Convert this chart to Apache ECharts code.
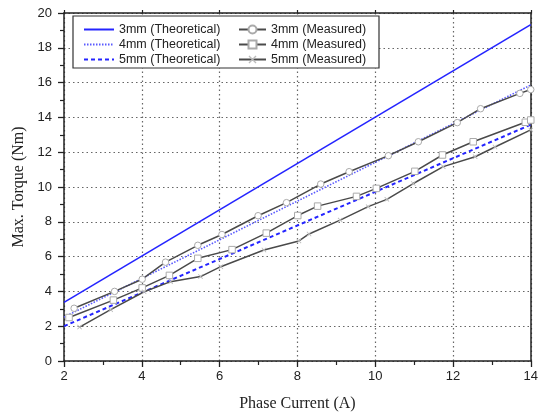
<!DOCTYPE html>
<html>
<head>
<meta charset="utf-8">
<script src="https://cdn.jsdelivr.net/npm/echarts@6/dist/echarts.min.js"></script>
<style>
html,body{margin:0;padding:0;background:#fff;}
#chart{width:541px;height:419px;}
</style>
</head>
<body>
<div id="chart"></div>
<script>
// ---- data ----
var seriesNames = ['3mm (Theoretical)', '4mm (Theoretical)', '5mm (Theoretical)',
                   '3mm (Measured)', '4mm (Measured)', '5mm (Measured)'];
var xTicks = [2, 4, 6, 8, 10, 12, 14];
var yTicks = [0, 2, 4, 6, 8, 10, 12, 14, 16, 18, 20];

var theoX = [2, 14];
var theo3 = [3.37, 19.33];
var theo4 = [2.52, 15.86];
var theo5 = [2.0, 13.58];

var meas3X = [2.26, 3.3, 4.01, 4.61, 5.44, 6.06, 6.99, 7.72, 8.6, 9.33, 10.34, 11.11, 12.11, 12.71, 13.72, 14.0];
var meas3Y = [3.03, 4.0, 4.7, 5.68, 6.65, 7.27, 8.35, 9.1, 10.17, 10.88, 11.8, 12.6, 13.7, 14.5, 15.38, 15.6];

var meas4X = [2.13, 3.27, 4.01, 4.71, 5.44, 6.32, 7.2, 8.01, 8.52, 9.52, 10.03, 11.02, 11.73, 12.52, 13.86, 14.0];
var meas4Y = [2.5, 3.5, 4.2, 4.92, 5.9, 6.4, 7.35, 8.36, 8.9, 9.46, 9.92, 10.9, 11.84, 12.6, 13.72, 13.85];

var meas5X = [2.4, 3.2, 4.06, 4.74, 5.51, 6.03, 7.14, 8.04, 8.3, 9.1, 9.82, 10.3, 10.98, 11.75, 12.57, 13.08, 14.0];
var meas5Y = [1.95, 2.95, 3.98, 4.56, 4.85, 5.42, 6.38, 6.9, 7.3, 8.1, 8.87, 9.29, 10.2, 11.17, 11.74, 12.3, 13.28];

function pairs(xs, ys) { return xs.map(function (x, i) { return [x, ys[i]]; }); }

var chart = echarts.init(document.getElementById('chart'), null, { renderer: 'canvas' });

var sans = 'Liberation Sans, Arial, sans-serif';
var serif = 'Liberation Serif, Times New Roman, serif';
var blue = '#2424ff';
var gray = '#4a4a4a';
var crossPath = 'path://M0,1.2 L1.2,0 L5,3.8 L8.8,0 L10,1.2 L6.2,5 L10,8.8 L8.8,10 L5,6.2 L1.2,10 L0,8.8 L3.8,5 Z';

var option = {
  backgroundColor: '#fff',
  animation: false,
  grid: { left: 64, right: 10, top: 13, bottom: 58, containLabel: false },
  xAxis: [{
    type: 'value', min: xTicks[0], max: xTicks[xTicks.length - 1], interval: 2,
    position: 'bottom',
    name: 'Phase Current (A)', nameLocation: 'middle', nameGap: 35,
    nameTextStyle: { fontFamily: serif, fontSize: 16, color: '#222' },
    axisLine: { show: true, onZero: false, lineStyle: { color: '#222', width: 1.5 } },
    axisTick: { show: true, inside: false, length: 6, lineStyle: { color: '#222', width: 1.3 } },
    minorTick: { show: true, splitNumber: 2, length: 4, lineStyle: { color: '#222', width: 1.2 } },
    axisLabel: { fontFamily: sans, fontSize: 13, color: '#222', margin: 9 },
    splitLine: { show: true, lineStyle: { color: '#666', type: [1.5, 3], width: 1.2 } }
  }, {
    type: 'value', min: xTicks[0], max: xTicks[xTicks.length - 1], interval: 2,
    position: 'top',
    axisLine: { show: true, onZero: false, lineStyle: { color: '#222', width: 1.5 } },
    axisTick: { show: true, inside: false, length: 3, lineStyle: { color: '#222', width: 1.2 } },
    axisLabel: { show: false },
    splitLine: { show: false }
  }],
  yAxis: [{
    type: 'value', min: yTicks[0], max: yTicks[yTicks.length - 1], interval: 2,
    position: 'left',
    name: 'Max. Torque (Nm)', nameLocation: 'middle', nameGap: 34,
    nameTextStyle: { fontFamily: serif, fontSize: 16, color: '#222' },
    axisLine: { show: true, onZero: false, lineStyle: { color: '#222', width: 1.5 } },
    axisTick: { show: true, inside: false, length: 6, lineStyle: { color: '#222', width: 1.3 } },
    minorTick: { show: true, splitNumber: 2, length: 4, lineStyle: { color: '#222', width: 1.2 } },
    axisLabel: { fontFamily: sans, fontSize: 13, color: '#222', margin: 12 },
    splitLine: { show: true, lineStyle: { color: '#666', type: [1.5, 3], width: 1.2 } }
  }, {
    type: 'value', min: yTicks[0], max: yTicks[yTicks.length - 1], interval: 2,
    position: 'right',
    axisLine: { show: true, onZero: false, lineStyle: { color: '#222', width: 1.5 } },
    axisTick: { show: false },
    axisLabel: { show: false },
    splitLine: { show: false }
  }],
  graphic: [{
    type: 'rect', z: 3,
    shape: { x: 73, y: 16, width: 306, height: 52 },
    style: { fill: '#fff', stroke: '#333', lineWidth: 1.2 }
  }],
  legend: [{
    data: seriesNames.slice(0, 3),
    orient: 'vertical', left: 83, top: 23, z: 5, padding: 0,
    itemWidth: 30, itemHeight: 10, itemGap: 2,
    itemStyle: { opacity: 0 },
    textStyle: { fontFamily: sans, fontSize: 12.5, color: '#222' }
  }, {
    data: seriesNames.slice(3),
    orient: 'vertical', left: 238, top: 23, z: 5, padding: 0,
    itemWidth: 27, itemHeight: 10, itemGap: 2,
    textStyle: { fontFamily: sans, fontSize: 12.5, color: '#222' }
  }],
  series: [{
    name: seriesNames[0], type: 'line', symbol: 'none', z: 2,
    data: pairs(theoX, theo3),
    lineStyle: { color: blue, width: 1.6, type: 'solid' }, itemStyle: { color: blue }
  }, {
    name: seriesNames[1], type: 'line', symbol: 'none', z: 2,
    data: pairs(theoX, theo4),
    lineStyle: { color: '#5a5aff', width: 1.6, type: [1.5, 1.5] }, itemStyle: { color: '#5a5aff' }
  }, {
    name: seriesNames[2], type: 'line', symbol: 'none', z: 2,
    data: pairs(theoX, theo5),
    lineStyle: { color: blue, width: 2, type: [4, 3] }, itemStyle: { color: blue }
  }, {
    name: seriesNames[3], type: 'line', symbol: 'circle', symbolSize: 6.5, z: 3,
    data: pairs(meas3X, meas3Y),
    lineStyle: { color: gray, width: 1.5 },
    itemStyle: { color: '#fff', borderColor: '#aaa', borderWidth: 1 }
  }, {
    name: seriesNames[4], type: 'line', symbol: 'rect', symbolSize: 6.5, z: 3,
    data: pairs(meas4X, meas4Y),
    lineStyle: { color: gray, width: 1.5 },
    itemStyle: { color: '#fff', borderColor: '#aaa', borderWidth: 1 }
  }, {
    name: seriesNames[5], type: 'line', symbol: crossPath, symbolSize: 5, z: 3,
    data: pairs(meas5X, meas5Y),
    lineStyle: { color: gray, width: 1.5 },
    itemStyle: { color: '#bbb', borderWidth: 0 }
  }]
};
chart.setOption(option);
</script>
</body>
</html>
